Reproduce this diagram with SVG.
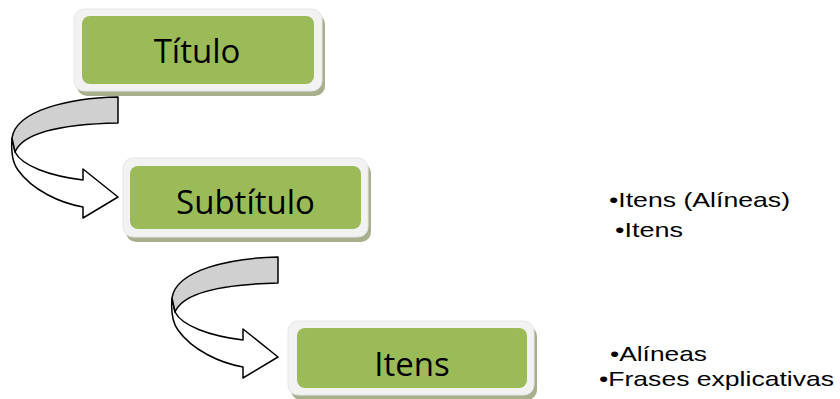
<svg xmlns="http://www.w3.org/2000/svg" width="840" height="399" viewBox="0 0 840 399">
<defs>
<style>
.shadow{fill:#a7af8d}
.frame{fill:#f2f2f2;stroke:#e6e6e6;stroke-width:1}
.inner{fill:#9bbb59}
.lbl{font-family:"Open Sans","Liberation Sans",sans-serif;font-size:33px;fill:#000;text-anchor:middle}
.side{font-family:"Liberation Sans",Arial,sans-serif;font-size:21px;fill:#000}
.aw{fill:#fff;stroke:#000;stroke-width:1.5;stroke-linejoin:round}
.ag{fill:#d0d0d0;stroke:#000;stroke-width:1.5;stroke-linejoin:round}
</style>
<g id="curvedArrow">
<path class="aw" d="M 12 138 C 11 150, 12 162, 18 170 C 32 190, 60 203, 83 207 L 83 218 L 118 197 L 83 169 L 83 180 C 50 176, 22 166, 15 152 Z"/>
<path class="ag" d="M 118 97 C 70 98, 16 110, 12 138 L 15 152 C 24 130, 70 124, 118 123 Z"/>
</g>
</defs>
<g id="connectors">
<use href="#curvedArrow"/>
<use href="#curvedArrow" transform="translate(160,160)"/>
</g>
<g id="node-titulo">
<rect class="shadow" x="77" y="14" width="248" height="82" rx="10"/>
<rect class="frame" x="74" y="9" width="248" height="82" rx="10"/>
<rect class="inner" x="82" y="16" width="232" height="68" rx="8"/>
<text class="lbl" x="197" y="63">Título</text>
</g>
<g id="node-subtitulo">
<rect class="shadow" x="126" y="163" width="245" height="79" rx="10"/>
<rect class="frame" x="123" y="158" width="245" height="79" rx="10"/>
<rect class="inner" x="130" y="166" width="231" height="63" rx="8"/>
<text class="lbl" x="245.5" y="214">Subtítulo</text>
</g>
<g id="node-itens">
<rect class="shadow" x="291" y="326" width="246" height="74" rx="10"/>
<rect class="frame" x="288" y="321" width="246" height="74" rx="10"/>
<rect class="inner" x="297" y="328" width="230" height="60" rx="8"/>
<text class="lbl" x="412" y="376">Itens</text>
</g>
<g id="side-notes">
<text class="side" x="609" y="207" textLength="181" lengthAdjust="spacingAndGlyphs">•Itens (Alíneas)</text>
<text class="side" x="615" y="237" textLength="68" lengthAdjust="spacingAndGlyphs">•Itens</text>
<text class="side" x="610" y="361" textLength="97" lengthAdjust="spacingAndGlyphs">•Alíneas</text>
<text class="side" x="599" y="386" textLength="235" lengthAdjust="spacingAndGlyphs">•Frases explicativas</text>
</g>
</svg>
